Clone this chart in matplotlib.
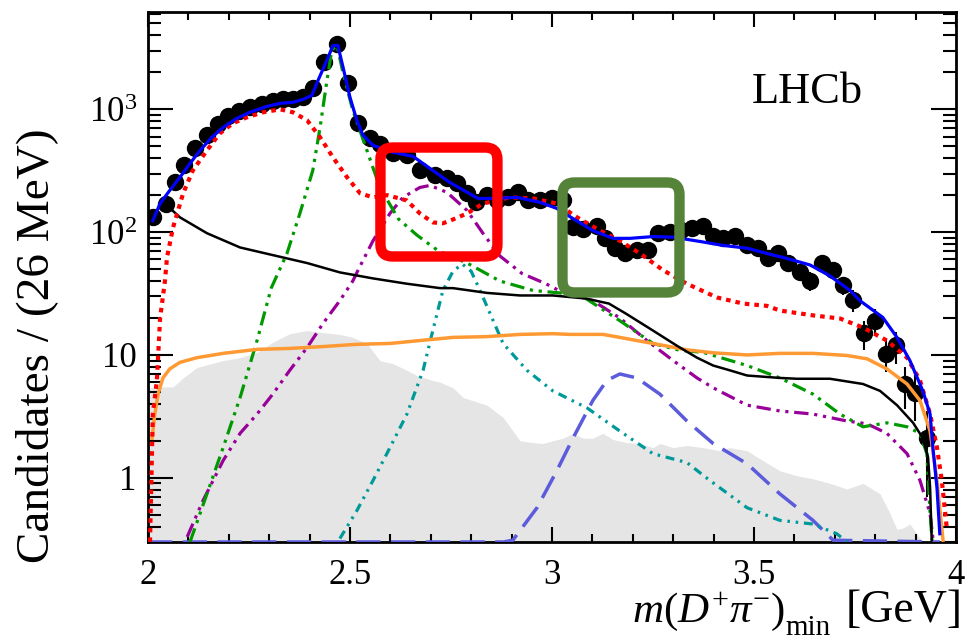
import matplotlib
matplotlib.use('Agg')
import matplotlib.pyplot as plt
from matplotlib.patches import FancyBboxPatch
from matplotlib.ticker import MultipleLocator, LogLocator, NullFormatter

plt.rcParams['font.family'] = ['Liberation Serif', 'DejaVu Serif']
plt.rcParams['mathtext.fontset'] = 'custom'
plt.rcParams['mathtext.rm'] = 'Liberation Serif'
plt.rcParams['mathtext.it'] = 'Liberation Serif:italic'
plt.rcParams['mathtext.bf'] = 'Liberation Serif:bold'

# ---- data points ----
data_x = [2.012, 2.045, 2.067, 2.089, 2.116, 2.146, 2.173, 2.198, 2.225, 2.252,
          2.282, 2.309, 2.334, 2.359, 2.384, 2.408, 2.436, 2.468, 2.495, 2.520,
          2.550, 2.574, 2.606, 2.641, 2.673, 2.710, 2.740, 2.765, 2.790, 2.812,
          2.839, 2.864, 2.891, 2.916, 2.941, 2.970, 3.000, 3.027, 3.052, 3.077,
          3.111, 3.131, 3.156, 3.181, 3.210, 3.238, 3.262, 3.292, 3.319, 3.347,
          3.374, 3.399, 3.423, 3.453, 3.483, 3.510, 3.535, 3.559, 3.584, 3.614,
          3.639, 3.668, 3.696, 3.720, 3.745, 3.772, 3.800, 3.827, 3.851, 3.873,
          3.898, 3.928]
data_y = [132, 171, 254, 350, 480, 615, 755, 880, 960, 1050,
          1110, 1160, 1220, 1220, 1270, 1480, 2420, 3400, 1630, 770,
          580, 525, 438, 422, 318, 290, 274, 250, 207, 175,
          199, 181, 192, 211, 181, 181, 188, 181, 110, 107,
          113, 90, 74, 68, 71, 71, 98, 100, 104, 108,
          113, 93, 89, 93, 78, 74, 62, 68, 56, 47,
          40, 56, 49, 37, 28, 15, 19, 10.2, 12, 5.8,
          4.9, 2.1]
data_err = [12, 14, 17, 20, 23, 26, 29, 31, 32, 34,
            35, 36, 37, 37, 38, 40, 50, 60, 42, 29,
            25, 24, 22, 21, 19, 18, 17, 16, 15, 14,
            15, 14, 15, 15, 14, 14, 14, 14, 11, 11,
            11, 10, 9, 9, 9, 9, 10, 10, 10, 11,
            11, 10, 10, 10, 9, 9, 8, 9, 8, 7,
            7, 8, 7, 6.5, 5.5, 4, 4.5, 3, 3.5, 2.2,
            2, 1.4]

# ---- total fit (blue) ----
total_x = [2.012, 2.030, 2.054, 2.079, 2.104, 2.129, 2.158, 2.186, 2.220, 2.252,
           2.295, 2.327, 2.359, 2.384, 2.406, 2.421, 2.443, 2.458, 2.470, 2.483,
           2.500, 2.517, 2.532, 2.557, 2.606, 2.656, 2.705, 2.747, 2.790, 2.817,
           2.854, 2.913, 2.970, 3.012, 3.052, 3.101, 3.151, 3.193, 3.250, 3.300,
           3.366, 3.423, 3.483, 3.532, 3.582, 3.639, 3.688, 3.738, 3.762, 3.819,
           3.854, 3.886, 3.918, 3.936, 3.943, 3.953, 3.960]
total_y = [124, 171, 219, 279, 363, 463, 592, 713, 845, 946,
           1057, 1119, 1140, 1205, 1300, 1722, 2512, 3311, 3311, 2188,
           1253, 813, 617, 509, 447, 414, 318, 254, 211, 188,
           188, 192, 175, 156, 129, 103, 89, 89, 92, 91,
           84, 78, 74, 67, 61, 54, 44, 33.5, 27.7, 20.2,
           13.9, 9.0, 5.1, 3.3, 1.76, 0.83, 0.35]

# ---- red dotted component ----
red_x = [2.005, 2.012, 2.022, 2.030, 2.042, 2.047, 2.062, 2.087, 2.111, 2.146,
         2.178, 2.210, 2.245, 2.285, 2.327, 2.359, 2.394, 2.426, 2.458, 2.493,
         2.525, 2.557, 2.592, 2.641, 2.673, 2.705, 2.730, 2.748, 2.790, 2.829,
         2.896, 2.953, 3.012, 3.062, 3.119, 3.168, 3.218, 3.275, 3.334, 3.408,
         3.473, 3.532, 3.564, 3.646, 3.713, 3.770, 3.829, 3.879, 3.911, 3.936,
         3.953, 3.965, 3.978]
red_y = [0.3, 3.3, 6.2, 20, 40, 62, 109, 207, 318, 463,
         637, 769, 861, 946, 1000, 946, 813, 592, 406, 279,
         207, 192, 200, 181, 142, 120, 118, 124, 142, 171,
         192, 188, 171, 132, 103, 85, 67, 49, 38, 29.4,
         26.2, 25.1, 23, 21, 19.8, 16.7, 13.1, 9.5, 6.2, 3.3,
         1.76, 0.95, 0.37]

# ---- black solid component ----
black_x = [2.035, 2.047, 2.079, 2.146, 2.228, 2.309, 2.394, 2.475, 2.557, 2.641,
           2.723, 2.755, 2.839, 2.921, 3.002, 3.084, 3.141, 3.183, 3.250, 3.309,
           3.359, 3.399, 3.440, 3.483, 3.564, 3.606, 3.688, 3.770, 3.812, 3.854,
           3.894, 3.918, 3.931, 3.936, 3.940]
black_y = [178, 165, 132, 98, 75, 65, 56, 47, 42, 38,
           35, 35, 32, 30.5, 30.5, 28.8, 26.2, 21.7, 15.8, 11.9,
           9.5, 8.2, 7.5, 6.8, 6.5, 6.4, 6.4, 5.8, 5.1, 3.9,
           2.8, 2.1, 1.46, 0.83, 0.31]

# ---- orange solid component ----
orange_x = [2.010, 2.017, 2.025, 2.037, 2.054, 2.079, 2.121, 2.186, 2.270, 2.351,
            2.433, 2.517, 2.599, 2.673, 2.755, 2.839, 2.921, 3.002, 3.045, 3.126,
            3.168, 3.210, 3.250, 3.334, 3.400, 3.483, 3.564, 3.646, 3.730, 3.780,
            3.829, 3.879, 3.911, 3.936, 3.953, 3.968]
orange_y = [2.1, 3.3, 4.8, 6.5, 7.7, 8.7, 9.5, 10.3, 11.1, 11.3,
            11.7, 12.2, 12.4, 13.1, 13.9, 14.1, 14.7, 14.9, 14.7, 14.7,
            13.9, 13.1, 12.4, 11.0, 10.4, 10.0, 10.3, 10.3, 9.9, 9.3,
            7.7, 5.8, 4.25, 2.4, 0.95, 0.31]

# ---- green dash-dot-dot component ----
green_x = [2.104, 2.146, 2.186, 2.228, 2.270, 2.305, 2.344, 2.376, 2.408, 2.426,
           2.443, 2.455, 2.468, 2.483, 2.507, 2.542, 2.574, 2.620, 2.665, 2.700,
           2.720, 2.790, 2.871, 2.953, 3.037, 3.084, 3.168, 3.250, 3.317, 3.374,
           3.483, 3.564, 3.646, 3.713, 3.770, 3.829, 3.879, 3.911, 3.928, 3.936,
           3.941]
green_y = [0.3, 0.74, 1.76, 4.5, 13.1, 35, 67, 142, 318, 713,
           1722, 3020, 3311, 1963, 982, 463, 231, 128, 95, 78,
           70, 56, 40, 33.5, 31.6, 28.8, 19, 12.4, 10.9, 10.5,
           8.2, 6.5, 4.8, 3.3, 2.6, 2.8, 2.6, 2.3, 1.57, 0.51,
           0.31]

# ---- purple dash-dot-dot component ----
purple_x = [2.097, 2.136, 2.186, 2.228, 2.270, 2.309, 2.351, 2.394, 2.433, 2.475,
            2.507, 2.520, 2.557, 2.599, 2.631, 2.673, 2.698, 2.740, 2.790, 2.829,
            2.871, 2.926, 2.985, 3.017, 3.101, 3.168, 3.235, 3.300, 3.359, 3.399,
            3.483, 3.564, 3.646, 3.730, 3.780, 3.829, 3.879, 3.911, 3.936, 3.943]
purple_y = [0.33, 0.65, 1.38, 2.3, 3.3, 4.8, 7.5, 11.5, 18, 27.7,
            40, 49, 85, 142, 192, 231, 240, 211, 150, 98,
            64, 46, 38, 33.5, 27.7, 20, 13.1, 9.0, 6.5, 5.4,
            3.9, 3.5, 3.3, 2.9, 2.75, 2.3, 1.57, 0.95, 0.51, 0.32]

# ---- teal dash-dot-dot component ----
teal_x = [2.475, 2.517, 2.557, 2.599, 2.641, 2.681, 2.705, 2.730, 2.755, 2.778,
          2.800, 2.822, 2.879, 2.938, 3.002, 3.087, 3.168, 3.250, 3.334, 3.391,
          3.483, 3.564, 3.646, 3.705, 3.730]
teal_y = [0.32, 0.54, 0.95, 1.76, 3.3, 7.5, 15.8, 33.5, 48, 55,
          48, 33.5, 12.4, 7.5, 5.1, 3.7, 2.4, 1.57, 1.33, 0.95,
          0.57, 0.45, 0.42, 0.35, 0.3]

# ---- slate-blue long dashed component ----
slate_x = [2.000, 2.880, 2.903, 2.963, 3.012, 3.052, 3.101, 3.136, 3.168, 3.210,
           3.267, 3.334, 3.399, 3.483, 3.564, 3.646, 3.696, 3.960]
slate_y = [0.3, 0.3, 0.31, 0.57, 1.14, 2.1, 4.25, 6.2, 7.0, 6.5,
           4.8, 2.9, 1.9, 1.3, 0.74, 0.45, 0.31, 0.3]

# ---- grey filled background ----
grey_x = [2.000, 2.012, 2.042, 2.062, 2.087, 2.121, 2.186, 2.228, 2.270, 2.309,
          2.351, 2.394, 2.433, 2.475, 2.507, 2.542, 2.574, 2.606, 2.641, 2.666,
          2.705, 2.723, 2.755, 2.780, 2.804, 2.839, 2.879, 2.921, 2.953, 2.978,
          3.002, 3.027, 3.052, 3.077, 3.101, 3.126, 3.151, 3.186, 3.218, 3.250,
          3.267, 3.300, 3.334, 3.374, 3.416, 3.440, 3.483, 3.522, 3.564, 3.606,
          3.646, 3.688, 3.730, 3.770, 3.812, 3.837, 3.854, 3.869, 3.886, 3.903,
          3.918]
grey_y = [5.4, 5.4, 5.5, 5.5, 6.5, 7.9, 9.0, 9.5, 10.5, 12.7,
          14.9, 15.8, 15.2, 14.7, 13.9, 12.4, 9.0, 8.5, 7.5, 6.8,
          6.2, 6.0, 5.4, 4.5, 4.25, 3.9, 3.1, 2.0, 1.93, 1.9,
          2.0, 2.1, 2.3, 2.1, 2.1, 2.3, 2.05, 1.93, 1.9, 1.76,
          1.9, 1.76, 1.83, 1.76, 1.66, 1.76, 1.66, 1.38, 1.14, 1.04,
          0.98, 0.9, 0.81, 0.9, 0.74, 0.51, 0.38, 0.39, 0.42, 0.35,
          0.3]

x_ticks = [2, 2.5, 3, 3.5, 4]
x_tick_labels = ['2', '2.5', '3', '3.5', '4']
y_ticks = [1, 10, 100, 1000]
y_tick_labels = ['1', '10', r'$10^{2}$', r'$10^{3}$']

fig = plt.figure(figsize=(9.71, 6.42), dpi=100)
ax = fig.add_axes([0.1524, 0.1558, 0.8321, 0.8255])

ax.fill_between(grey_x, 1e-3, grey_y, color='#e5e5e5', lw=0, zorder=1)
ax.errorbar(data_x, data_y, yerr=data_err, fmt='o', color='black', ms=11.5,
            elinewidth=1.5, capsize=0, zorder=2)

dashdotdot = (0, (4.5, 1.8, 1, 1.8, 1, 1.8))
ax.plot(slate_x, slate_y, color='#5b5bdc', lw=2.5, ls=(0, (7, 3)), zorder=3)
ax.plot(teal_x, teal_y, color='#009999', lw=2.3, ls=(0, (2.8, 1.8, 0.8, 1.8, 0.8, 1.8)), zorder=3)
ax.plot(purple_x, purple_y, color='#990099', lw=2.3, ls=dashdotdot, zorder=3)
ax.plot(green_x, green_y, color='#009900', lw=2.3, ls=dashdotdot, zorder=3)
ax.plot(orange_x, orange_y, color='#ff9933', lw=2.5, zorder=3)
ax.plot(black_x, black_y, color='black', lw=1.8, zorder=3)
ax.plot(red_x, red_y, color='#ff0000', lw=3, ls=(0, (1.1, 1.2)), zorder=3)
ax.plot(total_x, total_y, color='#0000ff', lw=2.3, zorder=4)

ax.set_yscale('log')
ax.set_xlim(2, 4)
ax.set_ylim(0.3, 6200)

ax.set_xticks(x_ticks)
ax.set_xticklabels(x_tick_labels)
ax.xaxis.set_minor_locator(MultipleLocator(0.1))
ax.set_yticks(y_ticks)
ax.set_yticklabels(y_tick_labels)
ax.yaxis.set_minor_locator(LogLocator(base=10, subs=range(2, 10)))
ax.yaxis.set_minor_formatter(NullFormatter())

ax.tick_params(which='both', direction='in', top=True, right=True, width=1.5, labelsize=25)
ax.tick_params(axis='x', which='major', length=10.8, pad=12)
ax.tick_params(axis='x', which='minor', length=5.8)
ax.tick_params(axis='y', which='major', length=18, pad=8)
ax.tick_params(axis='y', which='minor', length=9.4)
for s in ax.spines.values():
    s.set_linewidth(2)

# highlight boxes
r = 0.0149
asp = 808 / 530
for x0, y0, x1, y1, col in [(0.2877, 0.5387, 0.4325, 0.7443, '#ff0000'),
                            (0.5130, 0.4708, 0.6578, 0.6783, '#56833a')]:
    box = FancyBboxPatch((x0, y0), x1 - x0, y1 - y0,
                         boxstyle='round,pad=0,rounding_size=%g' % r,
                         mutation_aspect=asp, transform=ax.transAxes,
                         fill=False, ec=col, lw=7.5, zorder=6, clip_on=False)
    ax.add_patch(box)

ax.text(0.816, 0.828, 'LHCb', transform=ax.transAxes, ha='center', va='baseline', fontsize=32)

# x title in three pieces, ROOT style with a low subscript
t1 = fig.text(0.6509, 0.0315, r'$m(D^{+}\pi^{-})$', fontsize=31, ha='left', va='baseline')
fig.text(0.9918, 0.0315, '[GeV]', fontsize=33, ha='right', va='baseline')
fig.canvas.draw()
bb = t1.get_window_extent()
fig.text(bb.x1 / fig.bbox.width + 0.001, 0.011, 'min', fontsize=21, ha='left', va='baseline')

fig.text(0.038, 0.461, 'Candidates / (26 MeV)', rotation=90, ha='center', va='center', fontsize=34)

fig.savefig('out.png', dpi=100)
